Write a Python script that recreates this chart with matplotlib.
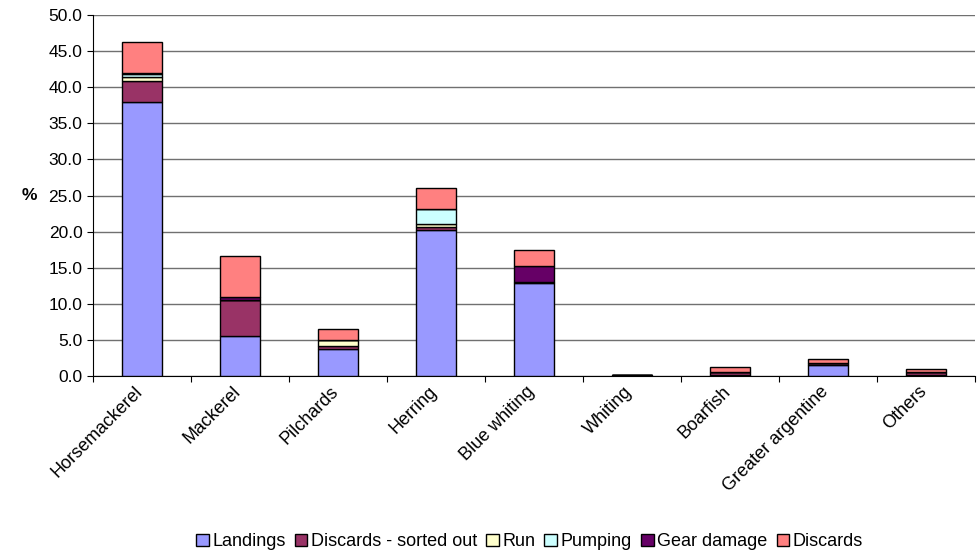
import matplotlib.pyplot as plt
import matplotlib.transforms as mtransforms
import numpy as np

plt.rcParams['font.family'] = ['Liberation Sans', 'DejaVu Sans']

# especes et composantes (% des captures)
especes = ["Horsemackerel", "Mackerel", "Pilchards", "Herring", "Blue whiting",
           "Whiting", "Boarfish", "Greater argentine", "Others"]
landings = [38.0, 5.5, 3.7, 20.2, 12.9, 0.1, 0.1, 1.6, 0.2]
discards_sorted = [2.8, 5.1, 0.5, 0.4, 0.1, 0.0, 0.5, 0.2, 0.3]
run = [0.6, 0.0, 0.8, 0.4, 0.0, 0.0, 0.0, 0.0, 0.0]
pumping = [0.5, 0.0, 0.0, 2.1, 0.0, 0.0, 0.0, 0.0, 0.0]
gear_damage = [0.1, 0.4, 0.0, 0.0, 2.2, 0.0, 0.0, 0.0, 0.0]
discards = [4.3, 5.7, 1.5, 2.9, 2.3, 0.0, 0.6, 0.5, 0.5]

series = [("Landings", landings, "#9999FF"),
          ("Discards - sorted out", discards_sorted, "#993366"),
          ("Run", run, "#FFFFCC"),
          ("Pumping", pumping, "#CCFFFF"),
          ("Gear damage", gear_damage, "#660066"),
          ("Discards", discards, "#FF8080")]

taille = 12.5

fig = plt.figure(figsize=(9.77, 5.58), dpi=100)
ax = fig.add_axes([0.095, 0.326, 0.903, 0.647])

x = np.arange(len(especes))
bas = np.zeros(len(especes))
for nom, valeurs, couleur in series:
    valeurs = np.array(valeurs)
    ax.bar(x, valeurs, 0.41, bottom=bas, color=couleur, edgecolor="black",
           linewidth=1, label=nom, zorder=3)
    bas += valeurs

ax.set_xlim(-0.5, len(especes) - 0.5)
ax.set_ylim(0, 50)
ax.set_yticks(np.arange(0, 50.1, 5))
ax.set_yticklabels([f"{v:.1f}" for v in np.arange(0, 50.1, 5)], fontsize=taille)
ax.yaxis.grid(True, color="#707070", linewidth=1, zorder=0)
ax.set_axisbelow(True)

# graduations entre les categories, comme dans Excel
ax.set_xticks(np.arange(-0.5, len(especes), 1))
ax.set_xticklabels([])
ax.set_xticks(x, minor=True)
ax.set_xticklabels(especes, minor=True, rotation=45, ha="right",
                   rotation_mode="anchor", fontsize=13)
ax.tick_params(axis="x", which="minor", length=0, pad=5)
ax.tick_params(axis="both", which="major", length=4, direction="out", color="black")
decalage = mtransforms.ScaledTranslation(-8 / 100, 0, fig.dpi_scale_trans)
for lab in ax.get_xticklabels(minor=True):
    lab.set_transform(lab.get_transform() + decalage)

for s in ["top", "right"]:
    ax.spines[s].set_visible(False)
ax.spines["left"].set_color("black")
ax.spines["bottom"].set_color("black")

ax.set_ylabel("%", rotation=0, fontsize=taille, fontweight="bold", labelpad=14, va="center")

fig.legend(loc="center", bbox_to_anchor=(0.542, 0.029), ncol=6, frameon=False,
           fontsize=13, handlelength=0.7, handleheight=0.7, handletextpad=0.2,
           columnspacing=0.5, borderpad=0)

fig.savefig("out.png", dpi=100)
